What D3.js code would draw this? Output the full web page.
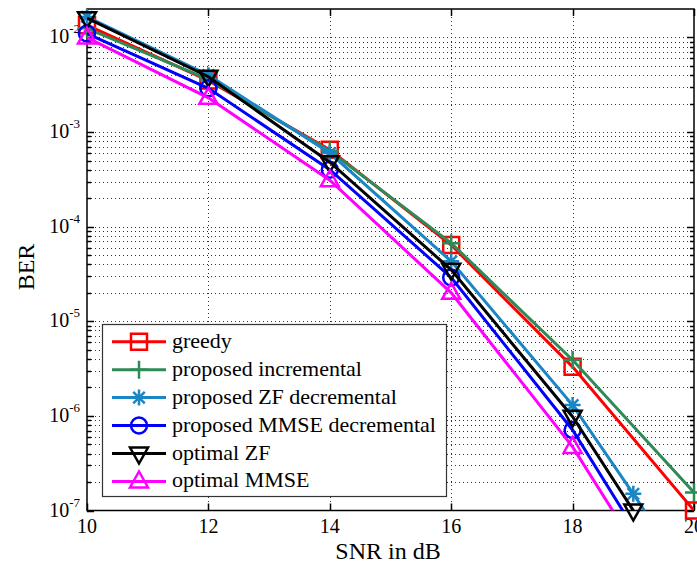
<!DOCTYPE html>
<html><head><meta charset="utf-8">
<script src="https://cdn.jsdelivr.net/npm/d3@7"></script>
<style>body{margin:0;background:#fff}svg{display:block}text{font-family:"Liberation Serif","DejaVu Serif",serif}</style>
</head><body>
<svg id="chart" width="697" height="565"></svg>
<script>
// SNR points (dB)
const snrEven = [10, 12, 14, 16, 18, 20];
const snrFine = [10, 12, 14, 16, 18, 19, 20];

// BER per scheme
const greedy      = [1.35e-2, 3.5e-3, 6.5e-4, 6.4e-5, 3.3e-6, 1.0e-7];
const incremental = [1.25e-2, 3.6e-3, 6.3e-4, 6.7e-5, 3.9e-6, 1.55e-7];
const zfDecrement = [1.65e-2, 4.0e-3, 6.0e-4, 4.3e-5, 1.3e-6, 1.5e-7, 1.6e-8];
const mmseDecrement = [1.1e-2, 2.9e-3, 4.0e-4, 2.9e-5, 7.1e-7, 6.6e-8, 5e-9];
const optimalZF   = [1.6e-2, 3.85e-3, 4.8e-4, 3.5e-5, 9.8e-7, 1.0e-7, 8e-9];
const optimalMMSE = [1.0e-2, 2.3e-3, 3.1e-4, 2.0e-5, 4.7e-7, 4.5e-8, 3e-9];

const seriesNames = ["greedy", "proposed incremental", "proposed ZF decremental",
  "proposed MMSE decremental", "optimal ZF", "optimal MMSE"];

const xTicks = [10, 12, 14, 16, 18, 20];
const yTickExps = [-7, -6, -5, -4, -3, -2];

const series = [
  {name: seriesNames[0], x: snrEven, y: greedy, color: "#ff0000", marker: "square"},
  {name: seriesNames[1], x: snrEven, y: incremental, color: "#2e8b57", marker: "plus"},
  {name: seriesNames[2], x: snrFine, y: zfDecrement, color: "#1b86c4", marker: "star"},
  {name: seriesNames[3], x: snrFine, y: mmseDecrement, color: "#0000ff", marker: "circle"},
  {name: seriesNames[4], x: snrFine, y: optimalZF, color: "#000000", marker: "tridown"},
  {name: seriesNames[5], x: snrFine, y: optimalMMSE, color: "#ff00ff", marker: "triup"}
];

const svg = d3.select("#chart");
const L = 87, R = 694, T = 9, B = 510.5;
const x = d3.scaleLinear().domain([10, 20]).range([L, R]);
const y = d3.scaleLog().domain([1e-7, 2e-2]).range([B, T]);

svg.append("defs").append("clipPath").attr("id", "plotClip")
  .append("rect").attr("x", L).attr("y", T).attr("width", R - L).attr("height", B - T);

// dotted grid: major x, major and minor y
const grid = svg.append("g").attr("stroke", "#333").attr("stroke-width", 1)
  .attr("stroke-dasharray", "1,3").attr("fill", "none");
xTicks.slice(1, -1).forEach(v => {
  grid.append("line").attr("x1", Math.round(x(v)) + 0.5).attr("x2", Math.round(x(v)) + 0.5)
    .attr("y1", T).attr("y2", B);
});
const yAllTicks = [];
for (let e = -7; e <= -2; e++) {
  for (let m = 1; m <= 9; m++) {
    const v = m * Math.pow(10, e);
    if (v > 1e-7 && v < 2e-2) yAllTicks.push({v, major: m === 1});
  }
}
yAllTicks.forEach(t => {
  grid.append("line").attr("x1", L).attr("x2", R)
    .attr("y1", Math.round(y(t.v)) + 0.5).attr("y2", Math.round(y(t.v)) + 0.5);
});

// axes frame and inward ticks on all sides
const axes = svg.append("g").attr("stroke", "#000").attr("fill", "none");
axes.append("rect").attr("x", L).attr("y", T).attr("width", R - L).attr("height", B - T)
  .attr("stroke-width", 1.5);
xTicks.forEach(v => {
  const px = Math.round(x(v)) + 0.5;
  axes.append("line").attr("x1", px).attr("x2", px).attr("y1", B).attr("y2", B - 7).attr("stroke-width", 1.5);
  axes.append("line").attr("x1", px).attr("x2", px).attr("y1", T).attr("y2", T + 7).attr("stroke-width", 1.5);
});
[{v: 1e-7, major: true}].concat(yAllTicks).forEach(t => {
  const py = Math.round(y(t.v)) + 0.5, len = t.major ? 7 : 4;
  axes.append("line").attr("x1", L).attr("x2", L + len).attr("y1", py).attr("y2", py).attr("stroke-width", 1.5);
  axes.append("line").attr("x1", R).attr("x2", R - len).attr("y1", py).attr("y2", py).attr("stroke-width", 1.5);
});

// tick labels and axis titles
const labels = svg.append("g").attr("fill", "#000");
xTicks.forEach(v => {
  labels.append("text").attr("x", x(v)).attr("y", 533).attr("text-anchor", "middle")
    .attr("font-size", 20).text(v);
});
yTickExps.forEach(e => {
  const t = labels.append("text").attr("x", 80).attr("y", y(Math.pow(10, e)) + 6)
    .attr("text-anchor", "end").attr("font-size", 20);
  t.append("tspan").text("10");
  t.append("tspan").attr("dy", -10).attr("font-size", 13).text("-" + Math.abs(e));
});
labels.append("text").attr("x", 388).attr("y", 559).attr("text-anchor", "middle")
  .attr("font-size", 24).text("SNR in dB");
labels.append("text").attr("transform", "translate(34,267) rotate(-90)")
  .attr("text-anchor", "middle").attr("font-size", 24).text("BER");

// marker shapes
function markerPath(kind) {
  const s = 8;
  switch (kind) {
    case "square": return `M${-s},${-s}H${s}V${s}H${-s}Z`;
    case "plus": return `M0,${-s - 1}V${s + 1}M${-s - 1},0H${s + 1}`;
    case "star": {
      const d = s * 0.72;
      return `M0,${-s}V${s}M${-s},0H${s}M${-d},${-d}L${d},${d}M${-d},${d}L${d},${-d}`;
    }
    case "circle": return `M${s},0A${s},${s} 0 1,1 ${-s},0A${s},${s} 0 1,1 ${s},0Z`;
    case "tridown": return `M${-s - 1},${-s + 2}H${s + 1}L0,${s + 2}Z`;
    case "triup": return `M${-s - 1},${s - 2}H${s + 1}L0,${-s - 2}Z`;
  }
}
function drawMarker(g, kind, color, px, py) {
  g.append("path").attr("d", markerPath(kind)).attr("transform", `translate(${px},${py})`)
    .attr("fill", "none").attr("stroke", color).attr("stroke-width", 2.5);
}

// curves: lines clipped to the axes, markers drawn whole
const line = d3.line().x(d => x(d[0])).y(d => y(d[1]));
const curves = svg.append("g");
series.forEach(s => {
  const pts = s.x.map((v, i) => [v, s.y[i]]);
  curves.append("path").datum(pts).attr("d", line).attr("clip-path", "url(#plotClip)")
    .attr("fill", "none").attr("stroke", s.color).attr("stroke-width", 3);
  const mg = curves.append("g");
  pts.filter(p => p[1] >= 1e-7 * 0.97 && p[1] <= 2e-2)
    .forEach(p => drawMarker(mg, s.marker, s.color, x(p[0]), y(p[1])));
});

// legend
const lg = svg.append("g");
lg.append("rect").attr("x", 102.5).attr("y", 324.5).attr("width", 344).attr("height", 172)
  .attr("fill", "#fff").attr("stroke", "#333").attr("stroke-width", 1.2);
series.forEach((s, i) => {
  const cy = 341.7 + i * 27.95;
  lg.append("line").attr("x1", 112).attr("x2", 166).attr("y1", cy).attr("y2", cy)
    .attr("stroke", s.color).attr("stroke-width", 3);
  drawMarker(lg, s.marker, s.color, 139, cy);
  lg.append("text").attr("x", 172).attr("y", cy + 6)
    .attr("font-size", 22).attr("fill", "#000").text(s.name);
});
</script>
</body></html>
